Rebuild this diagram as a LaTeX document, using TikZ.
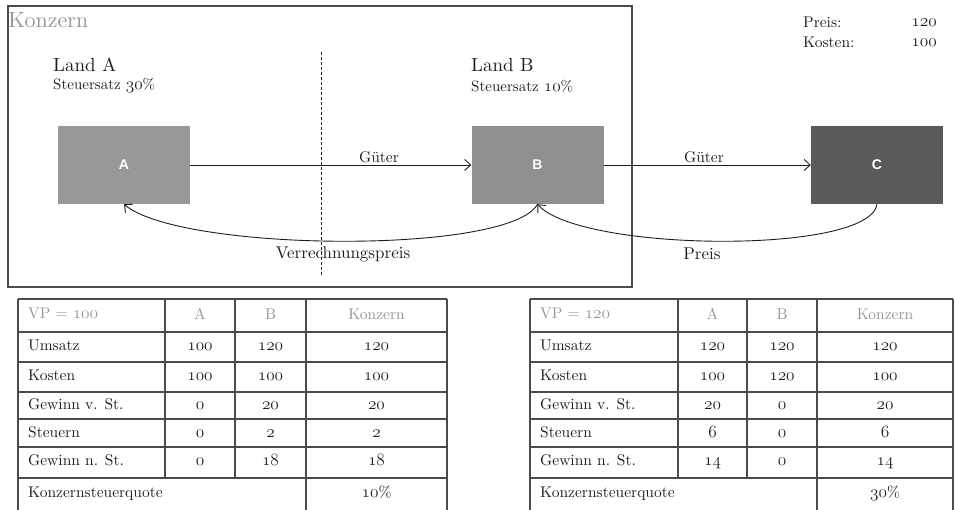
\documentclass[tikz,border=0pt]{standalone}
\usepackage{fontspec}
\setmainfont{lmroman10-regular.otf}[BoldFont=lmroman10-bold.otf, ItalicFont=lmroman10-italic.otf]
\newfontfamily\arialf{Liberation Sans}
\usetikzlibrary{arrows.meta}
\definecolor{boxA}{RGB}{152,152,152}
\definecolor{boxB}{RGB}{143,143,143}
\definecolor{boxC}{RGB}{90,90,90}
\definecolor{hdrgray}{RGB}{150,150,150}
\definecolor{framegray}{RGB}{75,75,75}
\definecolor{txtdark}{RGB}{30,30,30}
\makeatletter
\newcommand\osn[1]{{\@tempdima=\f@size pt\relax\@tempdima=1.14\@tempdima
  \fontencoding{OML}\fontfamily{lmm}\fontseries{m}\fontshape{it}%
  \fontsize{\strip@pt\@tempdima}{\f@baselineskip}\selectfont #1}}
\makeatother
\begin{document}
\begin{tikzpicture}[x=1pt,y=-1pt,
  ent/.style={draw=none, fill=#1, minimum width=132pt, minimum height=78pt, inner sep=0pt,
    text=white, font=\arialf\bfseries\fontsize{14}{16}\selectfont},
  flow/.style={-{Straight Barb[length=6pt,width=11pt]}, line width=0.9pt, draw=txtdark},
  lbl/.style={font=\fontsize{15.5}{18}\selectfont, inner sep=0pt, text=txtdark},
  biglbl/.style={font=\fontsize{17}{20}\selectfont, inner sep=0pt, text=txtdark},
  land/.style={font=\fontsize{19}{22}\selectfont, inner sep=0pt, anchor=west, text=txtdark},
  rate/.style={font=\fontsize{15}{17}\selectfont, inner sep=0pt, anchor=west, text=txtdark},
  cell/.style={font=\fontsize{15.5}{17}\selectfont, inner sep=0pt, text height=10.5pt, text depth=3pt, text=txtdark},
  hcell/.style={cell, text=hdrgray},
  grid/.style={draw=framegray, line width=1.1pt},
]
\useasboundingbox (0,0) rectangle (955,510);

% Konzern frame
\draw[draw=framegray, line width=1.2pt] (8,6) rectangle (632,287);
\node[anchor=west, inner sep=0pt, text=hdrgray, font=\fontsize{22}{25}\selectfont] (konz) at (8,20) {Konzern};

% Land labels
\node[land] (landA) at (53,65) {Land A};
\node[rate] (rateA) at (53,86) {Steuersatz \osn{30}\%};
\node[land] (landB) at (471,65) {Land B};
\node[rate] (rateB) at (471,86) {Steuersatz \osn{10}\%};

% dashed border
\draw[dashed, dash pattern=on 3pt off 2pt, line width=0.9pt, draw=txtdark] (321,52) -- (321,276);

% Preis / Kosten
\node[lbl, anchor=west] (preisL) at (803,22) {Preis:};
\node[lbl, anchor=east] (preisV) at (937,23) {\osn{120}};
\node[lbl, anchor=west] (kostL) at (803,42) {Kosten:};
\node[lbl, anchor=east] (kostV) at (937,43) {\osn{100}};

% entities
\node[ent=boxA] (A) at (124,165) {A};
\node[ent=boxB] (B) at (537.5,165) {B};
\node[ent=boxC] (C) at (877,165) {C};

% goods flows
\draw[flow] (A.east) -- (B.west);
\draw[flow] (B.east) -- (C.west);
\node[lbl] (g1) at (379,157) {G\"uter};
\node[lbl] (g2) at (704,157) {G\"uter};

% payment flows
\draw[flow] (B.south) .. controls (510,255) and (180,252) .. (A.south);
\draw[flow] (C.south) .. controls (870,255) and (580,252) .. (B.south);
\node[biglbl] (vp) at (343,254) {Verrechnungspreis};
\node[biglbl] (pr) at (702,254) {Preis};

% ---------- Table 1 ----------
\foreach \yy in {299,332,362,392,419,447,478}
  \draw[grid] (18,\yy) -- (447,\yy);
\draw[grid] (18,299) -- (18,510);
\draw[grid] (447,299) -- (447,510);
\draw[grid] (306,299) -- (306,510);
\draw[grid] (165,299) -- (165,478);
\draw[grid] (235,299) -- (235,478);

\node[hcell, anchor=west] (t1h0) at (28,315) {VP = \osn{100}};
\node[hcell] (t1h1) at (200,316) {A};
\node[hcell] (t1h2) at (270.5,316) {B};
\node[hcell] (t1h3) at (376.5,316) {Konzern};
\foreach \lab/\a/\b/\k/\yy [count=\i] in {Umsatz/100/120/120/347, Kosten/100/100/100/377,
    Gewinn v. St./0/20/20/406, Steuern/0/2/2/434, Gewinn n. St./0/18/18/462} {
  \node[cell, anchor=west] (t1r\i c0) at (28,\yy) {\lab};
  \node[cell] (t1r\i c1) at (200,\yy) {\osn{\a}};
  \node[cell] (t1r\i c2) at (270.5,\yy) {\osn{\b}};
  \node[cell] (t1r\i c3) at (376.5,\yy) {\osn{\k}};
}
\node[cell, anchor=west] (t1q) at (28,494) {Konzernsteuerquote};
\node[cell] (t1qv) at (376.5,494) {\osn{10}\%};

% ---------- Table 2 ----------
\foreach \yy in {299,332,362,392,419,447,478}
  \draw[grid] (530,\yy) -- (953,\yy);
\draw[grid] (530,299) -- (530,510);
\draw[grid] (953,299) -- (953,510);
\draw[grid] (817,299) -- (817,510);
\draw[grid] (678,299) -- (678,478);
\draw[grid] (747,299) -- (747,478);

\node[hcell, anchor=west] (t2h0) at (540,315) {VP = \osn{120}};
\node[hcell] (t2h1) at (712.5,316) {A};
\node[hcell] (t2h2) at (782,316) {B};
\node[hcell] (t2h3) at (885,316) {Konzern};
\foreach \lab/\a/\b/\k/\yy [count=\i] in {Umsatz/120/120/120/347, Kosten/100/120/100/377,
    Gewinn v. St./20/0/20/406, Steuern/6/0/6/434, Gewinn n. St./14/0/14/462} {
  \node[cell, anchor=west] (t2r\i c0) at (540,\yy) {\lab};
  \node[cell] (t2r\i c1) at (712.5,\yy) {\osn{\a}};
  \node[cell] (t2r\i c2) at (782,\yy) {\osn{\b}};
  \node[cell] (t2r\i c3) at (885,\yy) {\osn{\k}};
}
\node[cell, anchor=west] (t2q) at (540,494) {Konzernsteuerquote};
\node[cell] (t2qv) at (885,494) {\osn{30}\%};
\end{tikzpicture}
\end{document}
